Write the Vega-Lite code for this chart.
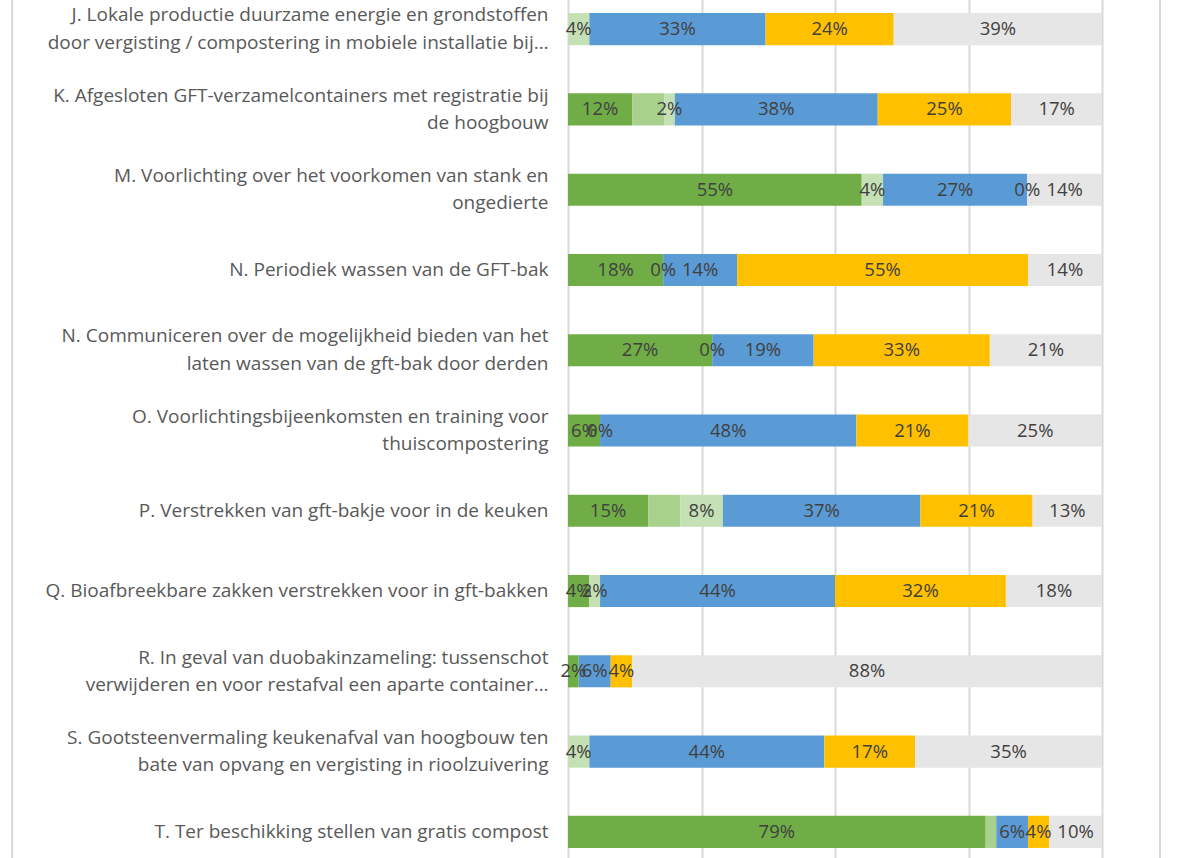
{
  "$schema": "https://vega.github.io/schema/vega-lite/v6.json",
  "width": 534,
  "height": 883,
  "autosize": "none",
  "padding": {"left": 568, "top": -11, "right": 75, "bottom": -14},
  "background": "white",
  "config": {"view": {"stroke": null}, "font": "Open Sans"},
  "data": {
    "values": [
      {"item": "J. Lokale productie duurzame energie en grondstoffen|door vergisting / compostering in mobiele installatie bij…", "s": "s3", "v": 0.04},
      {"item": "J. Lokale productie duurzame energie en grondstoffen|door vergisting / compostering in mobiele installatie bij…", "s": "s4", "v": 0.33},
      {"item": "J. Lokale productie duurzame energie en grondstoffen|door vergisting / compostering in mobiele installatie bij…", "s": "s5", "v": 0.24},
      {"item": "J. Lokale productie duurzame energie en grondstoffen|door vergisting / compostering in mobiele installatie bij…", "s": "s6", "v": 0.39},
      {"item": "K. Afgesloten GFT-verzamelcontainers met registratie bij|de hoogbouw", "s": "s1", "v": 0.12},
      {"item": "K. Afgesloten GFT-verzamelcontainers met registratie bij|de hoogbouw", "s": "s2", "v": 0.06},
      {"item": "K. Afgesloten GFT-verzamelcontainers met registratie bij|de hoogbouw", "s": "s3", "v": 0.02},
      {"item": "K. Afgesloten GFT-verzamelcontainers met registratie bij|de hoogbouw", "s": "s4", "v": 0.38},
      {"item": "K. Afgesloten GFT-verzamelcontainers met registratie bij|de hoogbouw", "s": "s5", "v": 0.25},
      {"item": "K. Afgesloten GFT-verzamelcontainers met registratie bij|de hoogbouw", "s": "s6", "v": 0.17},
      {"item": "M. Voorlichting over het voorkomen van stank en|ongedierte", "s": "s1", "v": 0.55},
      {"item": "M. Voorlichting over het voorkomen van stank en|ongedierte", "s": "s3", "v": 0.04},
      {"item": "M. Voorlichting over het voorkomen van stank en|ongedierte", "s": "s4", "v": 0.27},
      {"item": "M. Voorlichting over het voorkomen van stank en|ongedierte", "s": "s5", "v": 0},
      {"item": "M. Voorlichting over het voorkomen van stank en|ongedierte", "s": "s6", "v": 0.14},
      {"item": "N. Periodiek wassen van de GFT-bak", "s": "s1", "v": 0.18},
      {"item": "N. Periodiek wassen van de GFT-bak", "s": "s3", "v": 0},
      {"item": "N. Periodiek wassen van de GFT-bak", "s": "s4", "v": 0.14},
      {"item": "N. Periodiek wassen van de GFT-bak", "s": "s5", "v": 0.55},
      {"item": "N. Periodiek wassen van de GFT-bak", "s": "s6", "v": 0.14},
      {"item": "N. Communiceren over de mogelijkheid bieden van het|laten wassen van de gft-bak door derden", "s": "s1", "v": 0.27},
      {"item": "N. Communiceren over de mogelijkheid bieden van het|laten wassen van de gft-bak door derden", "s": "s3", "v": 0},
      {"item": "N. Communiceren over de mogelijkheid bieden van het|laten wassen van de gft-bak door derden", "s": "s4", "v": 0.19},
      {"item": "N. Communiceren over de mogelijkheid bieden van het|laten wassen van de gft-bak door derden", "s": "s5", "v": 0.33},
      {"item": "N. Communiceren over de mogelijkheid bieden van het|laten wassen van de gft-bak door derden", "s": "s6", "v": 0.21},
      {"item": "O. Voorlichtingsbijeenkomsten en training voor|thuiscompostering", "s": "s1", "v": 0.06},
      {"item": "O. Voorlichtingsbijeenkomsten en training voor|thuiscompostering", "s": "s3", "v": 0},
      {"item": "O. Voorlichtingsbijeenkomsten en training voor|thuiscompostering", "s": "s4", "v": 0.48},
      {"item": "O. Voorlichtingsbijeenkomsten en training voor|thuiscompostering", "s": "s5", "v": 0.21},
      {"item": "O. Voorlichtingsbijeenkomsten en training voor|thuiscompostering", "s": "s6", "v": 0.25},
      {"item": "P. Verstrekken van gft-bakje voor in de keuken", "s": "s1", "v": 0.15},
      {"item": "P. Verstrekken van gft-bakje voor in de keuken", "s": "s2", "v": 0.06},
      {"item": "P. Verstrekken van gft-bakje voor in de keuken", "s": "s3", "v": 0.08},
      {"item": "P. Verstrekken van gft-bakje voor in de keuken", "s": "s4", "v": 0.37},
      {"item": "P. Verstrekken van gft-bakje voor in de keuken", "s": "s5", "v": 0.21},
      {"item": "P. Verstrekken van gft-bakje voor in de keuken", "s": "s6", "v": 0.13},
      {"item": "Q. Bioafbreekbare zakken verstrekken voor in gft-bakken", "s": "s1", "v": 0.04},
      {"item": "Q. Bioafbreekbare zakken verstrekken voor in gft-bakken", "s": "s3", "v": 0.02},
      {"item": "Q. Bioafbreekbare zakken verstrekken voor in gft-bakken", "s": "s4", "v": 0.44},
      {"item": "Q. Bioafbreekbare zakken verstrekken voor in gft-bakken", "s": "s5", "v": 0.32},
      {"item": "Q. Bioafbreekbare zakken verstrekken voor in gft-bakken", "s": "s6", "v": 0.18},
      {"item": "R. In geval van duobakinzameling: tussenschot|verwijderen en voor restafval een aparte container…", "s": "s1", "v": 0.02},
      {"item": "R. In geval van duobakinzameling: tussenschot|verwijderen en voor restafval een aparte container…", "s": "s4", "v": 0.06},
      {"item": "R. In geval van duobakinzameling: tussenschot|verwijderen en voor restafval een aparte container…", "s": "s5", "v": 0.04},
      {"item": "R. In geval van duobakinzameling: tussenschot|verwijderen en voor restafval een aparte container…", "s": "s6", "v": 0.88},
      {"item": "S. Gootsteenvermaling keukenafval van hoogbouw ten|bate van opvang en vergisting in rioolzuivering", "s": "s3", "v": 0.04},
      {"item": "S. Gootsteenvermaling keukenafval van hoogbouw ten|bate van opvang en vergisting in rioolzuivering", "s": "s4", "v": 0.44},
      {"item": "S. Gootsteenvermaling keukenafval van hoogbouw ten|bate van opvang en vergisting in rioolzuivering", "s": "s5", "v": 0.17},
      {"item": "S. Gootsteenvermaling keukenafval van hoogbouw ten|bate van opvang en vergisting in rioolzuivering", "s": "s6", "v": 0.35},
      {"item": "T. Ter beschikking stellen van gratis compost", "s": "s1", "v": 0.79},
      {"item": "T. Ter beschikking stellen van gratis compost", "s": "s2", "v": 0.02},
      {"item": "T. Ter beschikking stellen van gratis compost", "s": "s4", "v": 0.06},
      {"item": "T. Ter beschikking stellen van gratis compost", "s": "s5", "v": 0.04},
      {"item": "T. Ter beschikking stellen van gratis compost", "s": "s6", "v": 0.10}
    ]
  },
  "layer": [
    {
      "mark": {"type": "bar"},
      "encoding": {
        "y": {
          "field": "item",
          "type": "nominal",
          "sort": null,
          "scale": {"paddingInner": 0.6, "paddingOuter": 0.3},
          "axis": {
            "title": null,
            "domain": false,
            "ticks": false,
            "labelPadding": 20,
            "labelFontSize": 19,
            "labelColor": "#595959",
            "labelLimit": 1000,
            "labelLineHeight": 27.5,
            "labelOffset": {"expr": "indexof(datum.label, '|') >= 0 ? -13.75 : 0"},
            "labelExpr": "split(datum.label, '|')"
          }
        },
        "x": {
          "field": "v",
          "type": "quantitative",
          "stack": "normalize",
          "scale": {"domain": [0, 1], "nice": false},
          "axis": {
            "title": null,
            "labels": false,
            "ticks": false,
            "domain": false,
            "grid": true,
            "gridColor": "#D9D9D9",
            "gridWidth": 2,
            "values": [0, 0.25, 0.5, 0.75, 1]
          }
        },
        "color": {
          "field": "s",
          "type": "nominal",
          "scale": {
            "domain": ["s1", "s2", "s3", "s4", "s5", "s6"],
            "range": ["#70AD47", "#A9D18E", "#C5E0B4", "#5B9BD5", "#FFC000", "#E7E6E6"]
          },
          "legend": null
        },
        "order": {"field": "s"}
      }
    },
    {
      "mark": {"type": "text", "fontSize": 18.5, "color": "#404040", "baseline": "middle", "align": "center"},
      "encoding": {
        "y": {"field": "item", "type": "nominal", "sort": null},
        "x": {"field": "v", "type": "quantitative", "stack": "normalize", "bandPosition": 0.5},
        "detail": {"field": "s"},
        "order": {"field": "s"},
        "text": {
          "condition": {"test": "datum.s === 's2'", "value": ""},
          "field": "v",
          "type": "quantitative",
          "format": ".0%"
        }
      }
    },
    {
      "data": {"values": [{"edge": -1.041}, {"edge": 1.1086}]},
      "mark": {"type": "rule", "color": "#D9D9D9", "strokeWidth": 2, "clip": false},
      "encoding": {
        "x": {"field": "edge", "type": "quantitative"}
      }
    }
  ]
}
